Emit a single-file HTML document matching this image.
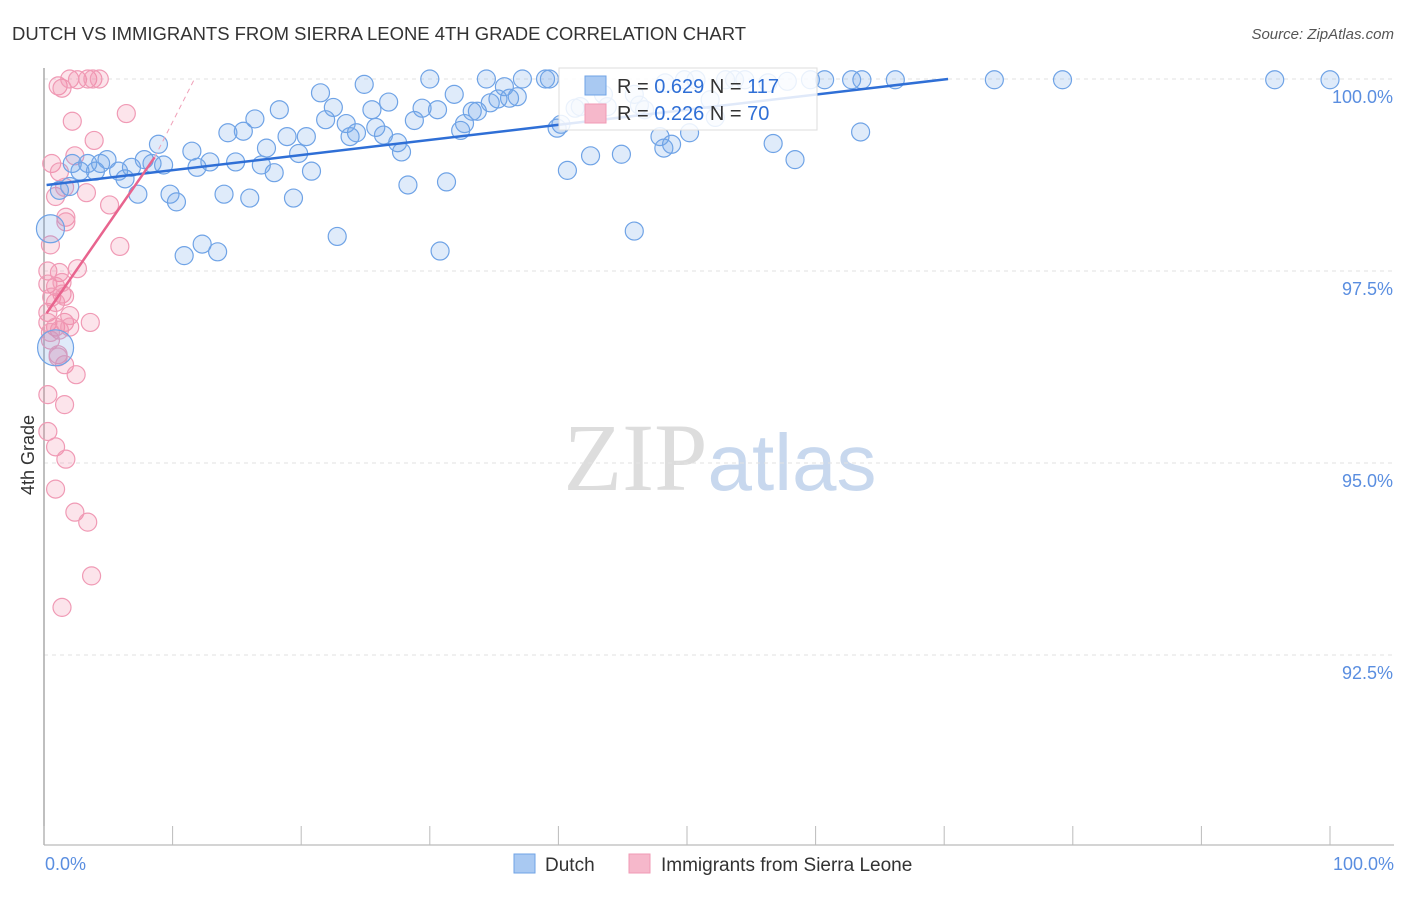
<!DOCTYPE html>
<html><head><meta charset="utf-8"><style>
body{margin:0;background:#fff;font-family:"Liberation Sans",sans-serif}
</style></head><body>
<svg id="chart" width="1406" height="892" xmlns="http://www.w3.org/2000/svg" font-family="Liberation Sans, sans-serif">
<text x="12" y="40" font-size="18" fill="#333" textLength="734" lengthAdjust="spacingAndGlyphs">DUTCH VS IMMIGRANTS FROM SIERRA LEONE 4TH GRADE CORRELATION CHART</text>
<text x="1394" y="39" font-size="15" fill="#555" text-anchor="end" font-style="italic">Source: ZipAtlas.com</text>
<text x="720" y="490" font-size="96" text-anchor="middle"><tspan fill="#ddd" font-family="Liberation Serif, serif">ZIP</tspan><tspan fill="#c8d8ee" font-size="80">atlas</tspan></text>
<g id="grid"></g><g id="axes"></g><g id="pts"></g><g id="lines"></g>
<g>
<rect x="559" y="68" width="258" height="62" fill="#fff" fill-opacity="0.85" stroke="#ddd"/>
<rect x="585" y="76" width="21" height="19" fill="#a9c9f2" stroke="#6fa3e6"/>
<rect x="585" y="104" width="21" height="19" fill="#f6b8cb" stroke="#f09ab5"/>
<text x="617" y="93" font-size="20" fill="#333">R = <tspan fill="#2f6fd6">0.629</tspan>   N = <tspan fill="#2f6fd6">117</tspan></text>
<text x="617" y="120" font-size="20" fill="#333">R = <tspan fill="#2f6fd6">0.226</tspan>   N = <tspan fill="#2f6fd6"> 70</tspan></text>
</g>
<g>
<rect x="514" y="854" width="21" height="19" fill="#a9c9f2" stroke="#6fa3e6"/>
<text x="545" y="871" font-size="19" fill="#333">Dutch</text>
<rect x="629" y="854" width="21" height="19" fill="#f6b8cb" stroke="#f09ab5"/>
<text x="661" y="871" font-size="19" fill="#333">Immigrants from Sierra Leone</text>
</g>
<text transform="translate(34,455) rotate(-90)" font-size="18" fill="#333" text-anchor="middle">4th Grade</text>
</svg>
<script>
const yTicks=[100,97.5,95,92.5];
const yTickLabels=["100.0%","97.5%","95.0%","92.5%"];
const xTickLabels=["0.0%","100.0%"];
const dutchX=[0.5,0.9,1.2,2.0,2.2,2.8,3.4,4.0,4.4,4.9,5.8,6.3,6.8,7.3,7.8,8.4,8.9,9.3,9.8,10.3,10.9,11.5,11.9,12.3,12.9,13.5,14.0,14.3,14.9,15.5,16.0,16.4,16.9,17.3,17.9,18.3,18.9,19.4,19.8,20.4,20.8,21.5,21.9,22.5,22.8,23.5,23.8,24.3,24.9,25.5,25.8,26.4,26.8,27.5,27.8,28.3,28.8,29.4,30.0,30.6,30.8,31.3,31.9,32.4,32.7,33.3,33.7,34.4,34.7,35.3,35.8,36.2,36.8,37.2,39.0,39.3,39.9,40.2,40.7,41.3,41.7,42.5,43.5,43.8,44.9,45.9,46.3,47.9,48.2,48.8,49.8,50.2,50.7,51.8,52.2,53.0,53.7,54.5,56.7,58.4,59.6,60.7,62.8,63.5,63.6,66.2,73.9,79.2,95.7,100,45.9,46.7,48.3,56.3,57.8];
const dutchY=[98.05,96.5,98.55,98.6,98.9,98.8,98.9,98.8,98.9,98.95,98.8,98.7,98.85,98.5,98.95,98.9,99.15,98.88,98.5,98.4,97.7,99.06,98.85,97.85,98.92,97.75,98.5,99.3,98.92,99.32,98.45,99.48,98.88,99.1,98.78,99.6,99.25,98.45,99.03,99.25,98.8,99.82,99.47,99.63,97.95,99.42,99.25,99.3,99.93,99.6,99.37,99.27,99.7,99.17,99.05,98.62,99.46,99.62,100,99.6,97.76,98.66,99.8,99.33,99.42,99.58,99.58,100,99.69,99.74,99.9,99.75,99.77,100,100,100,99.36,99.41,98.81,99.62,99.64,99.0,99.8,99.64,99.02,98.02,99.66,99.25,99.1,99.15,99.99,99.3,99.99,99.73,99.5,99.99,99.99,99.99,99.16,98.95,99.99,99.99,99.99,99.31,99.99,99.99,99.99,99.99,99.99,99.99,99.8,99.6,99.95,99.95,99.97];
const dutchR=[14,18];
const sierraX=[0.6,0.9,1.1,1.4,1.2,1.6,2.0,2.2,2.4,2.6,3.4,3.8,4.3,3.9,3.3,5.1,5.9,6.4,1.7,1.7,0.5,0.3,1.2,2.6,0.3,0.9,1.4,0.6,0.3,1.4,1.6,2.0,3.6,0.3,0.9,1.2,2.0,0.5,1.1,1.6,2.5,0.3,1.6,0.3,0.9,1.7,0.9,2.4,3.4,3.7,1.4,0.5,0.9,1.6,1.1];
const sierraY=[98.9,98.47,99.91,99.88,98.79,98.59,100,99.45,99.0,99.99,100,100,100,99.2,98.52,98.36,97.82,99.55,98.2,98.14,97.84,97.5,97.48,97.53,97.33,97.3,97.2,97.16,96.96,97.35,96.83,96.92,96.83,96.83,96.77,96.73,96.77,96.6,96.41,96.28,96.15,95.89,95.76,95.41,95.21,95.05,94.66,94.36,94.23,93.53,93.12,96.7,97.09,97.17,96.38];
const blueLine=[0.2,98.62,70.3,100];
const pinkLine=[0.2,96.95,8.6,98.98,11.7,100];
const X0=44,X1=1330,Y100=79,PPU=76.8;
const sx=v=>X0+(X1-X0)*v/100;
const sy=v=>Y100+(100-v)*PPU;
const NS="http://www.w3.org/2000/svg";
function mk(tag,attrs,parent){const e=document.createElementNS(NS,tag);for(const k in attrs)e.setAttribute(k,attrs[k]);document.getElementById(parent).appendChild(e);return e;}
yTicks.forEach((t,i)=>{
 const g=mk('line',{x1:44,x2:1394,y1:sy(t),y2:sy(t),stroke:'#e2e2e2','stroke-dasharray':'4,4'},'grid');
 
 
 const l=mk('text',{x:1393,y:sy(t)+24,'font-size':18,fill:'#5a8ee0','text-anchor':'end'},'axes');
 l.textContent=yTickLabels[i];
 
 
});
const ya=mk('line',{x1:44,x2:44,y1:68,y2:845,stroke:'#aaa','stroke-width':1.5},'axes');


const xa=mk('line',{x1:44,x2:1394,y1:845,y2:845,stroke:'#aaa','stroke-width':1},'axes');


for(let i=0;i<=10;i++){
 const t=mk('line',{x1:sx(i*10),x2:sx(i*10),y1:826,y2:845,stroke:'#bbb'},'axes');
 
 
}
[[0,'start',45],[100,'end',1394]].forEach((d,i)=>{
 const l=mk('text',{x:d[2],y:870,'font-size':18,fill:'#5a8ee0','text-anchor':d[1]},'axes');
 l.textContent=xTickLabels[i];
 
 
});
sierraX.forEach((x,i)=>{
 const c=mk('circle',{cx:sx(x),cy:sy(sierraY[i]),r:9,fill:'rgba(240,130,165,0.22)',stroke:'#f09ab5','stroke-width':1.2},'pts');
 
 
});
dutchX.forEach((x,i)=>{
 const c=mk('circle',{cx:sx(x),cy:sy(dutchY[i]),r:dutchR[i]||9,fill:'rgba(110,165,232,0.22)',stroke:'#6fa3e6','stroke-width':1.2},'pts');
 
 
});
const bl=mk('line',{x1:sx(blueLine[0]),y1:sy(blueLine[1]),x2:sx(blueLine[2]),y2:sy(blueLine[3]),stroke:'#2f6fd6','stroke-width':2.5},'lines');


const pl=mk('line',{x1:sx(pinkLine[0]),y1:sy(pinkLine[1]),x2:sx(pinkLine[2]),y2:sy(pinkLine[3]),stroke:'#e8648e','stroke-width':2.5},'lines');


const pd=mk('line',{x1:sx(pinkLine[2]),y1:sy(pinkLine[3]),x2:sx(pinkLine[4]),y2:sy(pinkLine[5]),stroke:'#f0a0b8','stroke-width':1,'stroke-dasharray':'5,4'},'lines');


</script>
</body></html>
